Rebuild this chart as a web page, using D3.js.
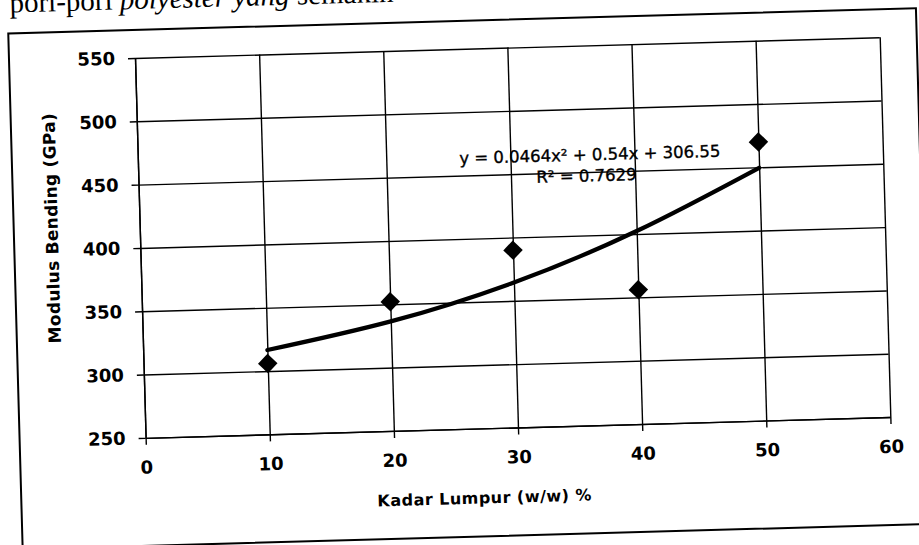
<!DOCTYPE html>
<html><head><meta charset="utf-8">
<script src="https://cdn.jsdelivr.net/npm/d3@7"></script>
<style>html,body{margin:0;padding:0;background:#fff;overflow:hidden}</style>
</head><body>
<svg id="c" width="919" height="545"></svg>
<script>
// ---- data ----
const xTicks = [0, 10, 20, 30, 40, 50, 60];
const yTicks = [250, 300, 350, 400, 450, 500, 550];
const kadar = [10, 20, 30, 40, 50];            // Kadar Lumpur (w/w) %
const modulus = [306, 352, 390, 356, 470];     // Modulus Bending (GPa)
const trendX = [10, 20, 30, 40, 50];           // polynomial trendline as drawn
const trendY = [316.6, 336.5, 364.5, 402.4, 449.6];
const equationText = "y = 0.0464x² + 0.54x + 306.55";
const r2Text = "R² = 0.7629";
const xTitle = "Kadar Lumpur (w/w) %";
const yTitle = "Modulus Bending (GPa)";
const captionParts = [["pori-pori ", "normal"], ["polyester yang", "italic"], [" semakin", "normal"]];

// ---- layout ----
const L = 135, T = 58, W = 745, H = 380;
const svg = d3.select("#c");
svg.append("rect").attr("width", 919).attr("height", 545).attr("fill", "#fff");
const g = svg.append("g").attr("transform", `rotate(-1.6,${L},${T})`);

const x = d3.scaleLinear().domain([0, 60]).range([L, L + W]);
const y = d3.scaleLinear().domain([250, 550]).range([T + H, T]);

// caption fragment at top (cut by page edge, as in the scan)
const cap = g.append("text").attr("x", 11).attr("y", 9)
  .attr("font-family", "Liberation Serif").attr("font-size", 29).attr("fill", "#000");
captionParts.forEach(p => cap.append("tspan").attr("font-style", p[1]).text(p[0]));

// outer chart border
g.append("rect").attr("x", 9).attr("y", 30).attr("width", 908).attr("height", 516)
  .attr("fill", "none").attr("stroke", "#000").attr("stroke-width", 2);

// gridlines
g.append("g").attr("transform", `translate(${L},0)`)
  .call(d3.axisLeft(y).tickValues(yTicks).tickSize(-W).tickFormat(""))
  .call(s => s.select(".domain").remove())
  .selectAll("line").attr("stroke", "#000").attr("stroke-width", 1.4);
g.append("g").attr("transform", `translate(0,${T + H})`)
  .call(d3.axisBottom(x).tickValues(xTicks).tickSize(-H).tickFormat(""))
  .call(s => s.select(".domain").remove())
  .selectAll("line").attr("stroke", "#000").attr("stroke-width", 1.4);

// axes with outer ticks and labels
const yAx = g.append("g").attr("transform", `translate(${L},0)`)
  .call(d3.axisLeft(y).tickValues(yTicks).tickSize(7).tickPadding(13).tickSizeOuter(0));
const xAx = g.append("g").attr("transform", `translate(0,${T + H})`)
  .call(d3.axisBottom(x).tickValues(xTicks).tickSize(7).tickPadding(16).tickSizeOuter(0));
[yAx, xAx].forEach(a => {
  a.selectAll("path,line").attr("stroke", "#000").attr("stroke-width", 1.4);
  a.selectAll("text").attr("font-family", "DejaVu Sans").attr("font-weight", "bold")
    .attr("font-size", 18).attr("fill", "#000");
});

// axis titles
g.append("text").attr("transform", "translate(53,226) rotate(-90)")
  .attr("text-anchor", "middle").attr("font-family", "DejaVu Sans").attr("font-weight", "bold")
  .attr("font-size", 17).attr("textLength", 230).attr("fill", "#000").text(yTitle);
g.append("text").attr("x", 472).attr("y", 513)
  .attr("text-anchor", "middle").attr("font-family", "DejaVu Sans").attr("font-weight", "bold")
  .attr("font-size", 16).attr("textLength", 214).attr("fill", "#000").text(xTitle);

// trendline
g.append("path")
  .datum(trendX.map((v, i) => [v, trendY[i]]))
  .attr("d", d3.line().x(d => x(d[0])).y(d => y(d[1])).curve(d3.curveNatural))
  .attr("fill", "none").attr("stroke", "#000").attr("stroke-width", 4.2).attr("stroke-linecap", "round");

// data markers (diamonds)
g.selectAll(".pt").data(kadar.map((v, i) => [v, modulus[i]])).join("path")
  .attr("class", "pt")
  .attr("d", d3.symbol().type(d3.symbolSquare).size(190))
  .attr("transform", d => `translate(${x(d[0])},${y(d[1])}) rotate(45)`)
  .attr("fill", "#000");

// equation labels
[[equationText, 587, 173], [r2Text, 583, 194]].forEach(e => {
  g.append("text").attr("x", e[1]).attr("y", e[2]).attr("text-anchor", "middle")
    .attr("font-family", "DejaVu Sans").attr("font-size", 16.5)
    .attr("fill", "#000").attr("stroke", "#000").attr("stroke-width", 0.35).text(e[0]);
});
</script>
</body></html>
